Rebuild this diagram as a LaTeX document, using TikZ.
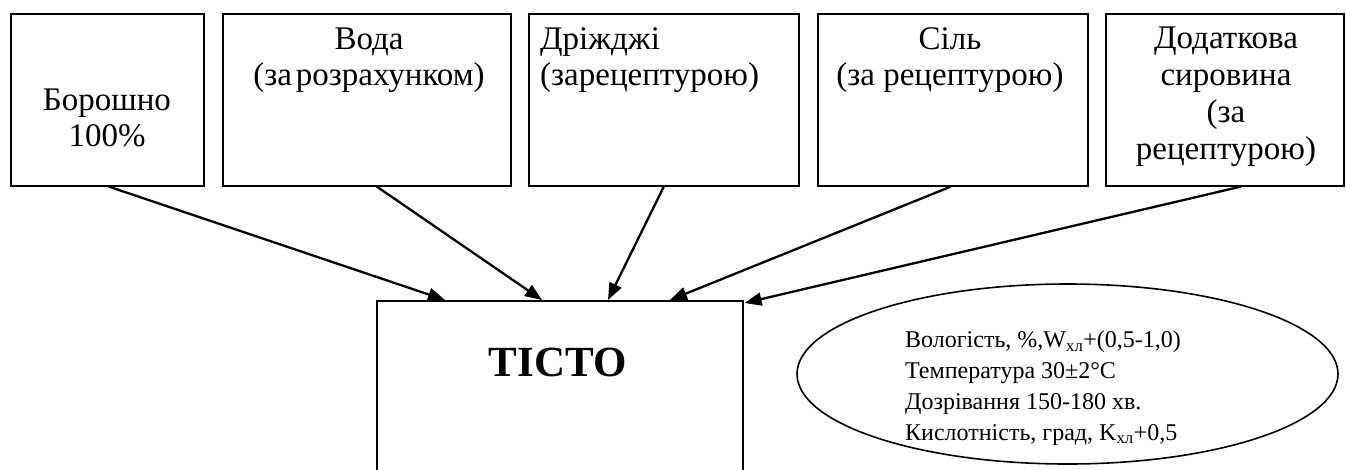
\documentclass[tikz,border=0pt]{standalone}
\usepackage{fontspec}
\setmainfont{Liberation Serif}
\usetikzlibrary{arrows.meta,shapes.geometric}

\tikzset{
  srcbox/.style={draw, line width=1.6pt, rectangle, inner sep=0pt},
  boxtext/.style={anchor=base, inner sep=0pt, align=center,
    font=\fontsize{33}{36}\selectfont},
  feed/.style={line width=2.3pt, -{Triangle[length=17pt,width=13pt]}},
  paramtext/.style={anchor=base west, inner sep=0pt, align=left,
    font=\fontsize{24}{30.7}\selectfont}
}

\begin{document}
\begin{tikzpicture}[x=1pt,y=-1pt]
\useasboundingbox (0,0) rectangle (1346,469);
\clip (0,0) rectangle (1346,469);

% raw material boxes
\node[srcbox, minimum width=193pt, minimum height=172pt, anchor=north west] (b1) at (10,13) {};
\node[srcbox, minimum width=288pt, minimum height=172pt, anchor=north west] (b2) at (222,13) {};
\node[srcbox, minimum width=270pt, minimum height=172pt, anchor=north west] (b3) at (528,13) {};
\node[srcbox, minimum width=270pt, minimum height=172pt, anchor=north west] (b4) at (817,13) {};
\node[srcbox, minimum width=238pt, minimum height=172pt, anchor=north west] (b5) at (1105,13) {};

% box labels (anchored at the baseline of the last line)
\node[boxtext] (b1t) at (107,146) {Борошно\\100\%};
\node[boxtext] (b2t) at (369,85) {Вода\\(за\kern0.12em розрахунком)};
\node[boxtext, anchor=base west, align=left] (b3t) at (540,85) {Дріжджі\\(зарецептурою)};
\node[boxtext] (b4t) at (950,85) {Сіль\\(за рецептурою)};
\node[boxtext, font=\fontsize{33}{37}\selectfont] (b5t) at (1226,159) {Додаткова\\сировина\\(за\\рецептурою)};

% dough box
\node[srcbox, minimum width=366pt, minimum height=220pt, anchor=north west] (t) at (376,300) {};
\node[anchor=base, inner sep=0pt, font=\fontsize{43}{43}\selectfont\bfseries] (tt) at (558,376) {ТІСТО};

% feeds into the dough
\draw[feed] ([xshift=1.5pt]b1.south) -- ([xshift=69pt]t.north west);
\draw[feed] ([xshift=10pt]b2.south) -- ([xshift=166pt]t.north west);
\draw[feed] (b3.south) -- ([xshift=232pt]t.north west);
\draw[feed] ([xshift=-2pt]b4.south) -- ([xshift=294pt]t.north west);
\draw[feed] ([xshift=16pt]b5.south) -- ([xshift=1pt,yshift=-3pt]t.north east);

% process parameters
\node[ellipse, draw, line width=1.6pt, minimum width=541pt, minimum height=180pt, inner sep=0pt] (e) at (1067.5,374) {};
\node[paramtext] (et) at (905,440) {Вологість, \%,W\textsubscript{хл}+(0,5-1,0)\\
Температура 30±2°С\\
Дозрівання 150-180 хв.\\
Кислотність, град, K\textsubscript{хл}+0,5};
\end{tikzpicture}
\end{document}
